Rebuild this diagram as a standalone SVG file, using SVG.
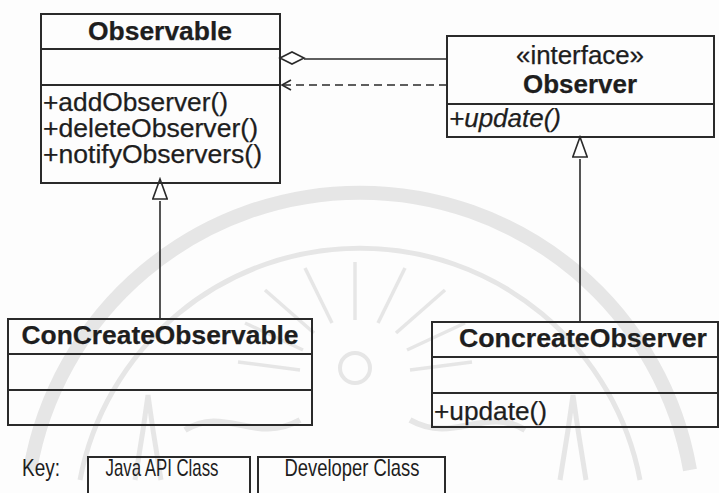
<svg xmlns="http://www.w3.org/2000/svg" width="719" height="493" viewBox="0 0 719 493">
  <defs>
    <style>
      .box { fill: none; stroke: #2a2a2a; stroke-width: 2; }
      .sep { stroke: #2a2a2a; stroke-width: 2; }
      .t { font-family: "Liberation Sans", Arial, sans-serif; font-size: 25px; fill: #1e1e1e; stroke: #1e1e1e; stroke-width: 0.25; }
      .b { font-weight: bold; }
      .i { font-style: italic; }
      .m { text-anchor: middle; }
      .k { font-family: "Liberation Sans", Arial, sans-serif; font-size: 24px; fill: #1e1e1e; }
      .ln { fill: none; stroke: #2a2a2a; stroke-width: 1.6; }
      .dash { fill: none; stroke: #2a2a2a; stroke-width: 1.6; stroke-dasharray: 8 5; }
      .wm { fill: none; stroke: #e6e6e6; }
    </style>
    <marker id="gen" viewBox="0 0 24 16" refX="0" refY="8" markerWidth="24" markerHeight="16" markerUnits="userSpaceOnUse" orient="auto">
      <path d="M22,8 L2,0.8 L2,15.2 Z" fill="#fff" stroke="#2a2a2a" stroke-width="1.6"/>
    </marker>
  </defs>

  <rect width="719" height="493" fill="#fdfdfd"/>

  <!-- faint background seal -->
  <g id="watermark" class="wm">
    <path d="M 30,470 A 335 335 0 0 1 690,470" stroke-width="14"/>
    <path d="M 80,480 A 285 285 0 0 1 640,480" stroke-width="5"/>
    <g stroke-width="3.5">
      <line x1="355" y1="320" x2="355" y2="262"/>
      <line x1="332" y1="323" x2="305" y2="268"/>
      <line x1="378" y1="323" x2="405" y2="268"/>
      <line x1="314" y1="333" x2="265" y2="290"/>
      <line x1="396" y1="333" x2="445" y2="290"/>
      <line x1="303" y1="350" x2="245" y2="323"/>
      <line x1="407" y1="350" x2="465" y2="323"/>
      <line x1="300" y1="370" x2="238" y2="362"/>
      <line x1="410" y1="370" x2="472" y2="362"/>
    </g>
    <circle cx="355" cy="368" r="15" stroke-width="4"/>
    <path d="M 135,480 L 143,430 L 148,395 L 153,430 L 161,480" stroke-width="5"/>
    <path d="M 560,480 L 568,430 L 573,395 L 578,430 L 586,480" stroke-width="5"/>
    <path d="M 185,430 C 225,405 255,445 300,420" stroke-width="6"/>
    <path d="M 525,430 C 485,405 455,445 410,420" stroke-width="6"/>
  </g>

  <!-- connectors -->
  <g id="connectors">
    <!-- aggregation: Observable holds Observers -->
    <line class="ln" x1="304" y1="59" x2="447" y2="59"/>
    <path d="M280,58 L292,52 L304,58 L292,64 Z" fill="#fff" stroke="#2a2a2a" stroke-width="1.6"/>
    <!-- dependency: Observer uses Observable -->
    <line class="dash" x1="283" y1="85" x2="447" y2="85"/>
    <path class="ln" d="M291,80 L282,85 L291,90"/>
    <!-- generalizations -->
    <line class="ln" x1="160" y1="319" x2="160" y2="201" marker-end="url(#gen)"/>
    <line class="ln" x1="580" y1="322" x2="580" y2="159" marker-end="url(#gen)"/>
  </g>

  <g id="observable">
    <rect class="box" x="41" y="14" width="239" height="169"/>
    <line class="sep" x1="41" y1="49" x2="280" y2="49"/>
    <line class="sep" x1="41" y1="85" x2="280" y2="85"/>
    <text class="t b m" x="160" y="40" textLength="144" lengthAdjust="spacingAndGlyphs">Observable</text>
    <text class="t" x="43" y="111" textLength="185" lengthAdjust="spacingAndGlyphs">+addObserver()</text>
    <text class="t" x="43" y="137" textLength="215" lengthAdjust="spacingAndGlyphs">+deleteObserver()</text>
    <text class="t" x="43" y="163" textLength="219" lengthAdjust="spacingAndGlyphs">+notifyObservers()</text>
  </g>

  <g id="observer">
    <rect class="box" x="447" y="36" width="267" height="101"/>
    <line class="sep" x1="447" y1="104" x2="714" y2="104"/>
    <text class="t m" x="580" y="64" textLength="128" lengthAdjust="spacingAndGlyphs">«interface»</text>
    <text class="t b m" x="580" y="93" textLength="114" lengthAdjust="spacingAndGlyphs">Observer</text>
    <text class="t i" x="449" y="127" textLength="112" lengthAdjust="spacingAndGlyphs">+update()</text>
  </g>

  <g id="concreteObservable">
    <rect class="box" x="8" y="319" width="304" height="106"/>
    <line class="sep" x1="8" y1="354" x2="312" y2="354"/>
    <line class="sep" x1="8" y1="390" x2="312" y2="390"/>
    <text class="t b m" x="160" y="344" textLength="277" lengthAdjust="spacingAndGlyphs">ConCreateObservable</text>
  </g>

  <g id="concreteObserver">
    <rect class="box" x="432" y="322" width="286" height="105"/>
    <line class="sep" x1="432" y1="357" x2="718" y2="357"/>
    <line class="sep" x1="432" y1="393" x2="718" y2="393"/>
    <text class="t b m" x="583" y="347" textLength="248" lengthAdjust="spacingAndGlyphs">ConcreateObserver</text>
    <text class="t" x="434" y="420" textLength="113" lengthAdjust="spacingAndGlyphs">+update()</text>
  </g>

  <g id="key">
    <text class="k" x="22" y="476" textLength="38" lengthAdjust="spacingAndGlyphs">Key:</text>
    <rect class="box" x="88" y="457" width="162" height="50"/>
    <text class="k m" x="162" y="476" textLength="113" lengthAdjust="spacingAndGlyphs">Java API Class</text>
    <rect class="box" x="258" y="457" width="187" height="50"/>
    <text class="k m" x="352" y="476" textLength="135" lengthAdjust="spacingAndGlyphs">Developer Class</text>
  </g>
</svg>
